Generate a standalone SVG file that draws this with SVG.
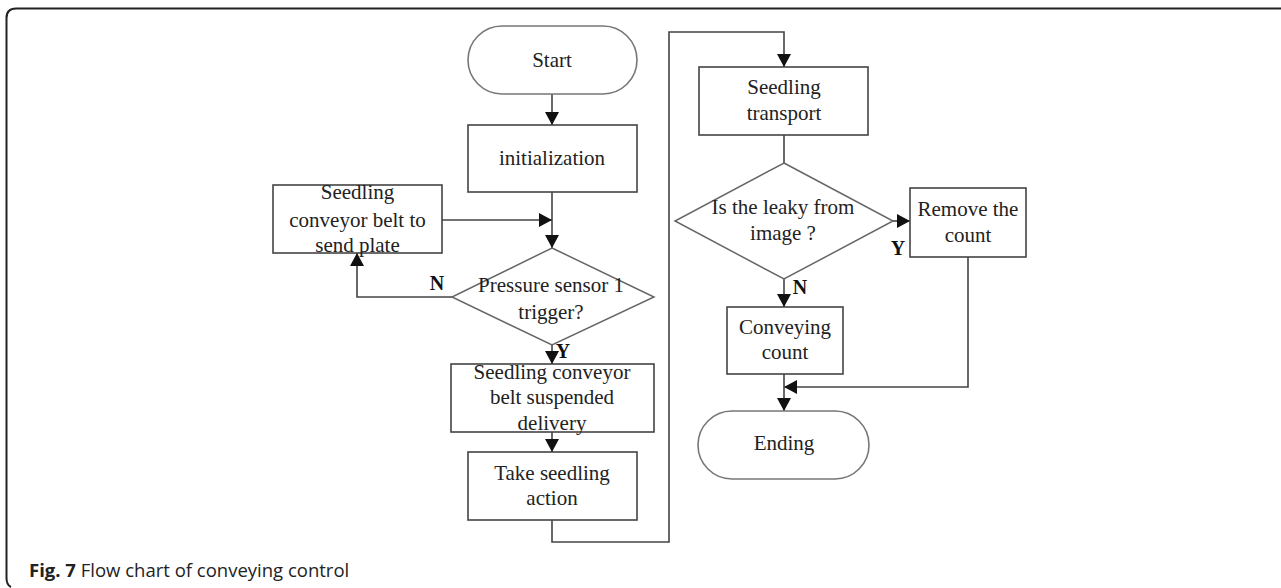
<svg xmlns="http://www.w3.org/2000/svg" width="1281" height="588" viewBox="0 0 1281 588">
<defs>
<marker id="ah" markerUnits="userSpaceOnUse" markerWidth="14" markerHeight="14" refX="13" refY="7" orient="auto">
<path d="M0,0 L13,7 L0,14 z" fill="#111"/>
</marker>
<style>
.t{font-family:"Liberation Serif","Times New Roman",serif;font-size:21px;fill:#222;text-anchor:middle}
.lb{font-family:"Liberation Serif","Times New Roman",serif;font-size:20px;font-weight:bold;fill:#111;text-anchor:middle}
.box{fill:#fff;stroke:#444;stroke-width:1.6}
.term{fill:#fff;stroke:#777;stroke-width:1.6}
.dia{fill:#fff;stroke:#666;stroke-width:1.5}
.c{fill:none;stroke:#444;stroke-width:1.6}
.ca{fill:none;stroke:#444;stroke-width:1.6;marker-end:url(#ah)}
.cap{font-family:"Open Sans","Noto Sans",sans-serif;font-size:18.5px;fill:#222}
</style>
</defs>
<rect width="1281" height="588" fill="#fff"/>
<path d="M1281 8.5 H16 Q6.5 8.5 6.5 18 V578 Q6.5 585 11 587" fill="none" stroke="#222" stroke-width="2"/>

<g id="connectors">
<path class="ca" d="M552 94 V125"/>
<path class="ca" d="M552 192 V248"/>
<path class="ca" d="M442 220 H552"/>
<path class="ca" d="M452 297 H357 V253"/>
<path class="ca" d="M552 345 V364"/>
<path class="ca" d="M552 432 V452"/>
<path class="ca" d="M552 520 V542 H669 V32 H784 V67"/>
<path class="c" d="M784 135 V163"/>
<path class="ca" d="M893 221 H910"/>
<path class="ca" d="M784 279 V307"/>
<path class="ca" d="M968 257 V387 H784"/>
<path class="ca" d="M784 374 V411"/>
</g>

<g id="start">
<rect class="term" x="468" y="26" width="169" height="68" rx="34" ry="34"/>
<text class="t" x="552" y="67">Start</text>
</g>
<g id="init">
<rect class="box" x="468" y="125" width="169" height="67"/>
<text class="t" x="552" y="165">initialization</text>
</g>
<g id="sendplate">
<rect class="box" x="273" y="185" width="169" height="68"/>
<text class="t" x="357.5" y="199">Seedling</text>
<text class="t" x="357.5" y="227">conveyor belt to</text>
<text class="t" x="357.5" y="252">send plate</text>
</g>
<g id="pressure">
<polygon class="dia" points="552,248 654,297 552,345 452,297"/>
<text class="t" x="551" y="292">Pressure sensor 1</text>
<text class="t" x="551" y="319">trigger?</text>
</g>
<g id="suspend">
<rect class="box" x="451" y="364" width="203" height="68"/>
<text class="t" x="552" y="379">Seedling conveyor</text>
<text class="t" x="552" y="404">belt suspended</text>
<text class="t" x="552" y="430">delivery</text>
</g>
<g id="take">
<rect class="box" x="468" y="452" width="169" height="68"/>
<text class="t" x="552" y="480">Take seedling</text>
<text class="t" x="552" y="505">action</text>
</g>
<g id="transport">
<rect class="box" x="699" y="67" width="169" height="68"/>
<text class="t" x="784" y="94">Seedling</text>
<text class="t" x="784" y="120">transport</text>
</g>
<g id="leaky">
<polygon class="dia" points="784,163 893,221 784,279 675,221"/>
<text class="t" x="783" y="214">Is the leaky from</text>
<text class="t" x="783" y="240">image ?</text>
</g>
<g id="remove">
<rect class="box" x="910" y="188" width="116" height="69"/>
<text class="t" x="968" y="216">Remove the</text>
<text class="t" x="968" y="242">count</text>
</g>
<g id="count">
<rect class="box" x="727" y="307" width="116" height="67"/>
<text class="t" x="785" y="334">Conveying</text>
<text class="t" x="785" y="359">count</text>
</g>
<g id="ending">
<rect class="term" x="698" y="411" width="171" height="68" rx="34" ry="34"/>
<text class="t" x="784" y="450">Ending</text>
</g>

<g id="labels">
<text class="lb" x="437" y="290">N</text>
<text class="lb" x="563" y="358">Y</text>
<text class="lb" x="898" y="255">Y</text>
<text class="lb" x="800" y="294">N</text>
</g>

<text class="cap" x="29" y="577"><tspan font-weight="bold">Fig. 7</tspan> Flow chart of conveying control</text>
</svg>
